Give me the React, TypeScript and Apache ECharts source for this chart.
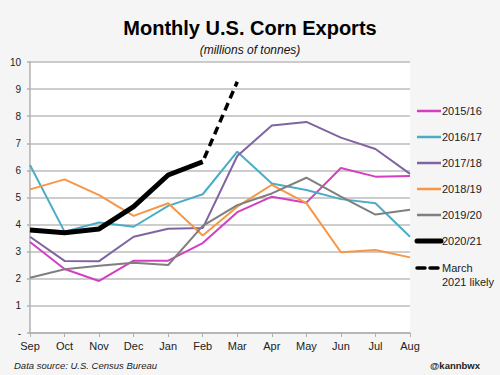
import React, { useEffect, useRef } from "react";
import * as echarts from "echarts";

const months = ["Sep", "Oct", "Nov", "Dec", "Jan", "Feb", "Mar", "Apr", "May", "Jun", "Jul", "Aug"];
const yTicks = ["-", "1", "2", "3", "4", "5", "6", "7", "8", "9", "10"];

const seriesNames = ["2015/16", "2016/17", "2017/18", "2018/19", "2019/20", "2020/21", "March 2021 likely"];
const seriesColors = ["#d43fc0", "#4bacc6", "#8064a2", "#f79646", "#7f7f7f", "#000000", "#000000"];

const y2015 = [3.36, 2.36, 1.92, 2.67, 2.67, 3.32, 4.46, 5.03, 4.81, 6.09, 5.77, 5.79];
const y2016 = [6.2, 3.74, 4.08, 3.92, 4.69, 5.12, 6.69, 5.52, 5.28, 4.94, 4.79, 3.55];
const y2017 = [3.55, 2.66, 2.65, 3.55, 3.85, 3.87, 6.53, 7.66, 7.79, 7.21, 6.79, 5.87];
const y2018 = [5.3, 5.67, 5.09, 4.32, 4.79, 3.6, 4.66, 5.47, 4.79, 2.98, 3.06, 2.79];
const y2019 = [2.04, 2.35, 2.48, 2.59, 2.51, 3.95, 4.72, 5.15, 5.73, 5.03, 4.37, 4.55];
const y2020 = [3.8, 3.7, 3.84, 4.66, 5.83, 6.32, null, null, null, null, null, null];
const yMarch = [null, null, null, null, null, 6.32, 9.27, null, null, null, null, null];

const allData = [y2015, y2016, y2017, y2018, y2019, y2020, yMarch];

export default function App() {
  const ref = useRef<HTMLDivElement>(null);
  useEffect(() => {
    document.body.style.margin = "0";
    if (!ref.current) return;
    const chart = echarts.init(ref.current, null, { renderer: "svg" });
    const font = "Liberation Sans, Arial, sans-serif";

    const series: any[] = allData.map((d, i) => ({
      name: seriesNames[i],
      type: "line",
      data: d,
      symbol: "none",
      connectNulls: false,
      z: i === 5 || i === 6 ? 5 : 3,
      lineStyle: {
        color: seriesColors[i],
        width: i === 5 ? 5 : i === 6 ? 3.5 : 2,
        type: i === 6 ? [8, 5] : "solid",
        dashOffset: i === 6 ? -4 : 0,
      },
      itemStyle: { color: seriesColors[i] },
    }));

    const legendTop = 111;
    const legendGap = 26;
    const legendEls: any[] = [];
    seriesNames.forEach((n, i) => {
      const cy = legendTop + i * legendGap + (i === 6 ? 1 : 0);
      legendEls.push({
        type: "line",
        shape: { x1: 417, y1: cy, x2: 441, y2: cy },
        style: {
          stroke: seriesColors[i],
          lineWidth: i === 5 ? 5 : i === 6 ? 3.5 : 2.5,
          lineDash: i === 6 ? [8, 5] : null,
          lineCap: i >= 5 ? "round" : "butt",
        },
      });
      const label = i === 6 ? "March\n2021 likely" : n;
      legendEls.push({
        type: "text",
        x: 442,
        y: cy - 7,
        style: {
          text: label,
          fontSize: 11,
          fontFamily: font,
          fill: "#222",
          lineHeight: 14,
        },
      });
    });

    chart.setOption({
      animation: false,
      backgroundColor: "#f5f5f5",
      title: {
        text: "Monthly U.S. Corn Exports",
        subtext: "(millions of tonnes)",
        left: "center",
        top: 13,
        itemGap: 6,
        textStyle: { fontSize: 20, fontWeight: "bold", color: "#000", fontFamily: font },
        subtextStyle: { fontSize: 12, fontStyle: "italic", color: "#111", fontFamily: font },
      },
      grid: {
        left: 30,
        right: 90,
        top: 62,
        bottom: 42,
        show: true,
        backgroundColor: "#ffffff",
        borderWidth: 0,
      },
      xAxis: {
        type: "category",
        data: months,
        boundaryGap: false,
        axisLine: { show: true, lineStyle: { color: "#b0b0b0", width: 1.5 } },
        axisTick: { show: true, length: 4, lineStyle: { color: "#b0b0b0" } },
        axisLabel: { fontSize: 11, color: "#222", margin: 7, fontFamily: font },
        splitLine: { show: false },
      },
      yAxis: {
        type: "value",
        min: 0,
        max: 10,
        interval: 1,
        axisLine: { show: true, lineStyle: { color: "#b0b0b0", width: 1.5 } },
        axisTick: { show: true, length: 3, lineStyle: { color: "#b0b0b0", width: 1.5 } },
        axisLabel: {
          fontSize: 10,
          color: "#222",
          margin: 9,
          fontFamily: font,
          formatter: (v: number) => yTicks[Math.round(v)],
        },
        splitLine: { show: true, lineStyle: { color: "#bdbdbd", width: 1.5 } },
      },
      series,
      graphic: [
        ...legendEls,
        {
          type: "text",
          x: 14,
          y: 360,
          style: {
            text: "Data source: U.S. Census Bureau",
            fontSize: 9.5,
            fontStyle: "italic",
            fontFamily: font,
            fill: "#222",
          },
        },
        {
          type: "text",
          x: 480,
          y: 360,
          style: {
            text: "@kannbwx",
            fontSize: 9.5,
            fontWeight: "bold",
            fontFamily: font,
            fill: "#222",
            align: "right",
          },
        },
      ],
    });
    return () => chart.dispose();
  }, []);
  return <div ref={ref} style={{ width: 500, height: 375 }} />;
}
